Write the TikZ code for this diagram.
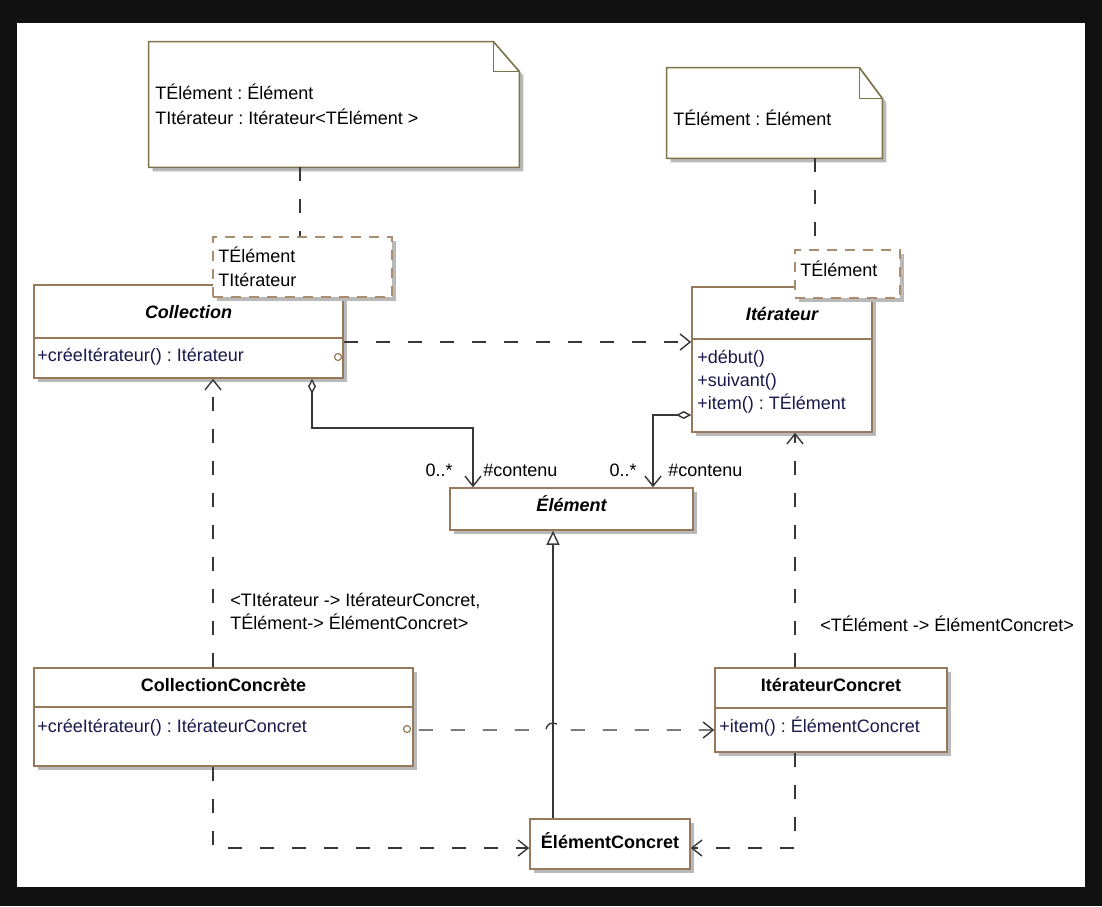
\documentclass[tikz,border=0pt]{standalone}
\usepackage{fontspec}
\setmainfont{Liberation Sans}
\usetikzlibrary{positioning,calc,fit,shadows}
\usetikzlibrary{arrows.meta}
\definecolor{ClsBrown}{RGB}{150,120,90}
\definecolor{NoteOlive}{RGB}{125,115,75}
\definecolor{TplTan}{RGB}{170,140,110}
\definecolor{ShadowGray}{RGB}{185,185,185}
\definecolor{OpNavy}{RGB}{25,25,75}
\definecolor{LineGray}{RGB}{55,55,55}
\definecolor{FrameBlack}{RGB}{17,17,17}
\newcommand{\umlsize}{\fontsize{9}{11}\selectfont\frenchspacing}
\tikzset{
	boxshadow/.style={drop shadow={shadow xshift=2pt,shadow yshift=-2pt,fill=ShadowGray,opacity=1}},
	cls/.style={draw=ClsBrown,line width=0.8pt,fill=white,inner sep=0pt,boxshadow},
	clsline/.style={draw=ClsBrown,line width=0.8pt},
	clsname/.style={inner sep=0pt,font=\umlsize\bfseries,text height=6.5pt,text depth=2pt},
	abstract/.style={inner sep=0pt,font=\umlsize\bfseries\itshape,text height=6.5pt,text depth=2pt},
	op/.style={anchor=west,inner sep=0pt,text=OpNavy,text height=6.5pt,text depth=2pt},
	mult/.style={inner sep=0pt,text height=6.5pt,text depth=2pt},
	port/.style={circle,draw=ClsBrown,fill=white,line width=0.6pt,inner sep=0pt,minimum size=3.5pt},
	notearea/.style={inner sep=0pt},
	notebox/.style={draw=NoteOlive,line width=0.8pt,fill=white,boxshadow},
	notefold/.style={draw=NoteOlive,line width=0.8pt},
	notetext/.style={anchor=west,align=left,inner sep=0pt},
	tpl/.style={draw=TplTan,line width=0.8pt,dash pattern=on 5pt off 4pt,fill=white,inner sep=0pt,boxshadow},
	notelink/.style={draw=LineGray,line width=0.7pt,dash pattern=on 7pt off 9pt},
	dep/.style={draw=LineGray,line width=0.7pt,dash pattern=on 7pt off 9pt,
		-{Straight Barb[length=5pt,width=8pt]}},
	aggr/.style={draw=LineGray,line width=0.7pt,
		{Diamond[open,length=7.5pt,width=4pt]}-{Straight Barb[length=5pt,width=8pt]}},
	gen/.style={draw=LineGray,line width=0.7pt,-{Triangle[open,length=7pt,width=6.5pt]}},
}
\begin{document}
\begin{tikzpicture}[x=0.5pt,y=-0.5pt,font=\umlsize]
	\useasboundingbox (0,0) rectangle (1102,906);
	\fill[FrameBlack] (0,0) rectangle (1102,906);
	\fill[white] (17,23) rectangle (1085,887);

	% notes
	\node[notearea,fit={(149,42) (519,167)}] (note1) {};
	\filldraw[notebox] (note1.south west) -- (note1.north west) -- ([xshift=-13pt]note1.north east)
		-- ([yshift=-15pt]note1.north east) -- (note1.south east) -- cycle;
	\draw[notefold] ([xshift=-13pt]note1.north east) -- ([xshift=-13pt,yshift=-15pt]note1.north east)
		-- ([yshift=-15pt]note1.north east);
	\node[notetext,font=\fontsize{9}{12.5}\selectfont\frenchspacing] (note1Txt) at (155,104.5) {TÉlément : Élément\\TItérateur : Itérateur<TÉlément >};

	\node[notearea,fit={(667,68) (882,158)}] (note2) {};
	\filldraw[notebox] (note2.south west) -- (note2.north west) -- ([xshift=-11.5pt]note2.north east)
		-- ([yshift=-15.5pt]note2.north east) -- (note2.south east) -- cycle;
	\draw[notefold] ([xshift=-11.5pt]note2.north east) -- ([xshift=-11.5pt,yshift=-15.5pt]note2.north east)
		-- ([yshift=-15.5pt]note2.north east);
	\node[notetext] (note2Txt) at (673,118) {TÉlément : Élément};

	% classes
	\node[cls,fit={(34,285) (343,378)}] (coll) {};
	\draw[clsline] ($(coll.north west)+(0,54)$) -- ($(coll.north east)+(0,54)$);
	\node[abstract] (collName) at (188.5,314) {Collection};
	\node[op] (collOp) at (37,357) {+créeItérateur() : Itérateur};
	\node[port] (collPort) at (338,357) {};

	\node[cls,fit={(692,287) (872,432)}] (iter) {};
	\draw[clsline] ($(iter.north west)+(0,53)$) -- ($(iter.north east)+(0,53)$);
	\node[abstract] (iterName) at (782,316) {Itérateur};
	\node[op] (iterOp1) at (697,359) {+début()};
	\node[op] (iterOp2) at (697,382) {+suivant()};
	\node[op] (iterOp3) at (697,405) {+item() : TÉlément};

	\node[cls,fit={(450,488) (693,530)}] (elem) {};
	\node[abstract] (elemName) at (571.5,507) {Élément};

	\node[cls,fit={(34,668) (413,766)}] (collC) {};
	\draw[clsline] ($(collC.north west)+(0,40)$) -- ($(collC.north east)+(0,40)$);
	\node[clsname] (collCName) at (223.5,687) {CollectionConcrète};
	\node[op] (collCOp) at (37,728) {+créeItérateur() : ItérateurConcret};
	\node[port] (collCPort) at (407,729) {};

	\node[cls,fit={(715,668) (947,752)}] (iterC) {};
	\draw[clsline] ($(iterC.north west)+(0,41)$) -- ($(iterC.north east)+(0,41)$);
	\node[clsname] (iterCName) at (831,687) {ItérateurConcret};
	\node[op] (iterCOp) at (719,728) {+item() : ÉlémentConcret};

	\node[cls,fit={(530,819) (690,869)}] (elemC) {};
	\node[clsname] (elemCName) at (610,844) {ÉlémentConcret};

	% template parameters
	\node[tpl,fit={(213,237) (392,297)}] (tplC) {};
	\node[notetext,font=\fontsize{9}{12}\selectfont] (tplCTxt) at (218,267) {TÉlément\\TItérateur};
	\node[tpl,fit={(795,250) (900,298)}] (tplI) {};
	\node[notetext] (tplITxt) at (800,269) {TÉlément};

	% lanes
	\coordinate (lnNote1) at (300,0);
	\coordinate (lnNote2) at (815,0);
	\coordinate (lnBindL) at (213,0);
	\coordinate (lnBindR) at (795,0);
	\coordinate (lnAggC) at (312,428);
	\coordinate (lnAggI) at (653,415);
	\coordinate (lnElemIn) at (473,0);
	\coordinate (lnGen) at (553,0);
	\coordinate (rowDep) at (0,342);
	\coordinate (rowDepC) at (0,730);
	\coordinate (rowBottom) at (0,848);
	\coordinate (hopL) at (546,730);

	% connectors
	\draw[notelink] (note1.south -| lnNote1) -- (tplC.north -| lnNote1);
	\draw[notelink] (note2.south -| lnNote2) -- (tplI.north -| lnNote2);
	\draw[dep] (coll.east |- rowDep) -- (iter.west |- rowDep);
	\draw[aggr] (coll.south -| lnAggC) -- (lnAggC) -| (elem.north -| lnElemIn);
	\draw[aggr] (iter.west |- lnAggI) -- (lnAggI) -- (elem.north -| lnAggI);
	\draw[dep] (collC.north -| lnBindL) -- (coll.south -| lnBindL);
	\draw[dep] (iterC.north -| lnBindR) -- (iter.south -| lnBindR);
	\draw[dep] (collC.south -| lnBindL) |- (elemC.west |- rowBottom);
	\draw[dep] (iterC.south -| lnBindR) |- (elemC.east |- rowBottom);
	\draw[gen] (elemC.north -| lnGen) -- (elem.south -| lnGen);
	\draw[dep,dash phase=13.5pt] (collC.east |- rowDepC) -- (hopL) arc[start angle=180,end angle=0,radius=3.5pt]
		-- (iterC.west |- rowDepC);

	% labels
	\node[mult,anchor=east] (multC) at (453,472) {0..*};
	\node[mult,anchor=west] (roleC) at (483,472) {\#contenu};
	\node[mult,anchor=east] (multI) at (637,472) {0..*};
	\node[mult,anchor=west] (roleI) at (668,472) {\#contenu};
	\node[notetext,font=\fontsize{9}{11.5}\selectfont\frenchspacing] (bindCTxt) at (230,611) {<TItérateur -> ItérateurConcret,\\TÉlément-> ÉlémentConcret>};
	\node[notetext] (bindITxt) at (820,624) {<TÉlément -> ÉlémentConcret>};
\end{tikzpicture}
\end{document}
